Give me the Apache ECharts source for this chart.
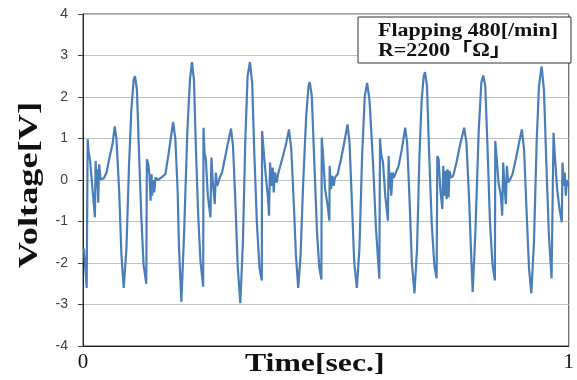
<!DOCTYPE html>
<html>
<head>
<meta charset="utf-8">
<style>
  html, body { margin: 0; padding: 0; background: #fff; }
  #chart { width: 577px; height: 380px; }
</style>
<script src="https://cdn.jsdelivr.net/npm/echarts@6/dist/echarts.min.js"></script>
</head>
<body>
<div id="chart"></div>
<script>
// samples: time [s] and voltage [V]
const timeSec = [
  0.002, 0.0076, 0.0096, 0.0117, 0.0143, 0.0245, 0.026, 0.028, 0.0292, 0.0313, 0.0333, 0.0362, 0.0389, 0.0429, 0.0485, 0.0552, 0.0607, 0.0654, 0.0689, 0.0742, 0.0791, 0.0838, 0.0894, 0.0947, 0.0996, 0.1043, 0.107, 0.111, 0.1151, 0.12, 0.1247, 0.1303,
  0.1315, 0.1344, 0.137, 0.1391, 0.1411, 0.1425, 0.1446, 0.1466, 0.1493, 0.154, 0.1609, 0.1697, 0.1765, 0.1814, 0.1855, 0.1902, 0.1949, 0.1977, 0.2025, 0.208, 0.2147, 0.2202, 0.2243, 0.2284, 0.2325, 0.2372, 0.2419, 0.2474,
  0.2481, 0.2501, 0.2529, 0.257, 0.2624, 0.2644, 0.2672, 0.2693, 0.2713, 0.2734, 0.2761, 0.2787, 0.2815, 0.2863, 0.2931, 0.2986, 0.3047, 0.3088, 0.3135, 0.3184, 0.3238, 0.3292, 0.334, 0.3388, 0.3436, 0.3483, 0.3524, 0.3579, 0.3634, 0.3681,
  0.3687, 0.3728, 0.3769, 0.3804, 0.383, 0.3851, 0.3879, 0.3906, 0.3926, 0.3953, 0.3988, 0.4015, 0.4049, 0.4117, 0.4186, 0.424, 0.4288, 0.4342, 0.4383, 0.4431, 0.4479, 0.4533, 0.4595, 0.4642, 0.4669, 0.471, 0.4765, 0.482, 0.4867, 0.4908,
  0.4915, 0.4943, 0.4984, 0.5037, 0.5072, 0.5078, 0.5106, 0.5133, 0.516, 0.5188, 0.5242, 0.5311, 0.5365, 0.5446, 0.5487, 0.5528, 0.5583, 0.5638, 0.5691, 0.5746, 0.5801, 0.5849, 0.5896, 0.591, 0.5971, 0.6033, 0.61,
  0.6115, 0.6135, 0.6176, 0.6223, 0.6278, 0.6292, 0.6313, 0.6333, 0.6346, 0.6374, 0.6401, 0.6442, 0.6497, 0.6564, 0.6632, 0.6673, 0.6722, 0.6769, 0.6824, 0.6877, 0.6926, 0.6973, 0.7014, 0.7041, 0.7082, 0.7123, 0.7178, 0.7233, 0.728,
  0.7294, 0.7321, 0.7356, 0.7397, 0.7417, 0.7438, 0.7464, 0.7485, 0.7505, 0.7526, 0.7546, 0.7573, 0.7622, 0.7689, 0.7757, 0.7847, 0.7894, 0.7949, 0.7996, 0.8022, 0.8078, 0.8145, 0.82, 0.8241, 0.8282, 0.8329, 0.8378, 0.8431, 0.848,
  0.8487, 0.8513, 0.8554, 0.8603, 0.863, 0.865, 0.8677, 0.8706, 0.8726, 0.8753, 0.8787, 0.8841, 0.891, 0.8978, 0.9033, 0.908, 0.9127, 0.9182, 0.9229, 0.9284, 0.9339, 0.9387, 0.9441, 0.9489, 0.9536, 0.9591, 0.9646,
  0.9687, 0.9714, 0.9761, 0.981, 0.9857, 0.9871, 0.9898, 0.9918, 0.9939, 0.9965, 0.9994
];
const voltage = [
  -1.65, -2.6, 0.98, 0.66, 0.5, -0.9, 0.46, -0.2, 0.26, -0.55, 0.38, 0.02, 0, 0.04, 0.18, 0.58, 0.86, 1.29, 0.98, -0.2, -1.8, -2.6, -1.65, 0.34, 1.7, 2.42, 2.5, 2.18, 0.74, -0.86, -2.05, -2.5,
  0.5, 0.38, 0.1, -0.5, 0.14, -0.38, 0, -0.3, 0.06, 0, 0.06, 0.14, 0.66, 1.06, 1.4, 0.98, -0.3, -1.65, -2.93, -1.33, 1.14, 2.42, 2.84, 2.42, 0.74, -0.86, -1.97, -2.57,
  1.26, 0.66, 0.5, -0.38, -0.9, 0.54, -0.06, -0.3, -0.58, 0.18, -0.14, -0.06, 0.06, 0.18, 0.58, 0.9, 1.24, 0.82, -0.46, -2.05, -2.97, -1.5, 0.9, 2.5, 2.84, 2.34, 0.74, -1.02, -2.13, -2.42,
  1.18, 0.58, 0.02, -0.38, -0.86, 0.42, -0.14, 0.3, -0.3, 0.18, -0.06, 0.14, 0.18, 0.58, 0.9, 1.22, 0.74, -0.62, -1.8, -2.6, -1.8, -0.06, 1.54, 2.26, 2.36, 2.02, 0.34, -1.33, -2.13, -2.4,
  1.02, 0.58, -0.22, -0.62, -0.98, 0.34, -0.22, 0.1, -0.14, 0.06, 0.14, 0.5, 0.82, 1.34, 0.9, -0.3, -1.97, -2.6, -1.65, 0.58, 2.02, 2.34, 1.94, 1.7, 0.4, -1.2, -2.38,
  1.0, 0.66, 0.42, -0.38, -0.98, 0.58, -0.22, 0.18, -0.38, 0.18, 0.06, 0.06, 0.34, 0.74, 1.26, 0.9, -0.46, -1.97, -2.73, -1.65, 0.58, 1.94, 2.5, 2.6, 2.26, 0.74, -1.02, -2.05, -2.37,
  0.58, 0.5, -0.22, -0.7, 0.34, -0.38, 0.22, -0.46, 0.26, -0.42, 0.22, 0.06, 0.1, 0.42, 0.82, 1.26, 0.9, -0.46, -1.97, -2.7, -1.25, 1.14, 2.34, 2.52, 2.26, 0.74, -1.02, -2.05, -2.42,
  0.94, 0.58, -0.06, -0.38, -0.86, 0.42, -0.14, -0.58, 0.34, -0.06, 0, 0.14, 0.5, 0.9, 1.22, 0.74, -0.62, -2.13, -2.73, -1.5, 0.9, 2.26, 2.74, 2.18, 0.5, -1.33, -2.37,
  1.14, 0.58, -0.22, -0.7, -1.02, 0.42, -0.14, 0.18, -0.38, 0, -0.14
];
const yTicks = { min: -4, max: 4, step: 1 };
const xLabel = "Time[sec.]";
const yLabel = "Voltage[V]";
const noteLines = ["Flapping 480[/min]", "R=2200「Ω」"];

const serif = "'Liberation Serif', 'DejaVu Serif', 'Noto Sans CJK JP', serif";

const points = timeSec.map((t, i) => [t, voltage[i]]);

const chart = echarts.init(document.getElementById("chart"));
chart.setOption({
  backgroundColor: "#fff",
  animation: false,
  grid: {
    left: 83, right: 5, top: 14, bottom: 34,
    show: true, borderColor: "#404040", borderWidth: 1
  },
  xAxis: {
    type: "value",
    min: 0, max: 1, interval: 1,
    axisLine: { show: true, onZero: false, lineStyle: { color: "#222", width: 1 } },
    axisTick: { show: false },
    splitLine: { show: false },
    axisLabel: {
      color: "#111", fontFamily: serif, fontSize: 21, margin: 6
    }
  },
  yAxis: {
    type: "value",
    min: yTicks.min, max: yTicks.max, interval: yTicks.step,
    axisLine: { show: true, lineStyle: { color: "#222", width: 1 } },
    axisTick: { show: true, length: 5, lineStyle: { color: "#404040" } },
    splitLine: { show: true, lineStyle: { color: "#c0c0c0", width: 1 } },
    axisLabel: {
      color: "#404040", fontFamily: "'Liberation Sans', Arial, sans-serif", fontSize: 14, margin: 15
    }
  },
  graphic: [
    {
      type: "text", x: 245, y: 364, scaleX: 1.22,
      style: { text: xLabel, font: "bold 26px " + serif, fill: "#111", textVerticalAlign: "middle" }
    },
    {
      type: "text", x: 30, y: 185, rotation: Math.PI / 2, scaleX: 1.3,
      style: {
        text: yLabel, font: "bold 28px " + serif, fill: "#111",
        textAlign: "center", textVerticalAlign: "middle"
      }
    },
    {
      type: "rect", shape: { x: 358, y: 17, width: 213, height: 46 },
      style: { fill: "#fff", stroke: "#333", lineWidth: 1 }, z: 10
    },
    {
      type: "text", x: 378, y: 31, scaleX: 1.22, z: 11,
      style: { text: noteLines[0], font: "bold 18px " + serif, fill: "#111", textVerticalAlign: "middle" }
    },
    {
      type: "text", x: 378, y: 51, scaleX: 1.22, z: 11,
      style: { text: noteLines[1], font: "bold 18px " + serif, fill: "#111", textVerticalAlign: "middle" }
    }
  ],
  series: [
    {
      type: "line",
      data: points,
      showSymbol: false,
      smooth: false,
      lineStyle: { color: "#4a7ebb", width: 2.2 },
      z: 2
    }
  ]
});
</script>
</body>
</html>
